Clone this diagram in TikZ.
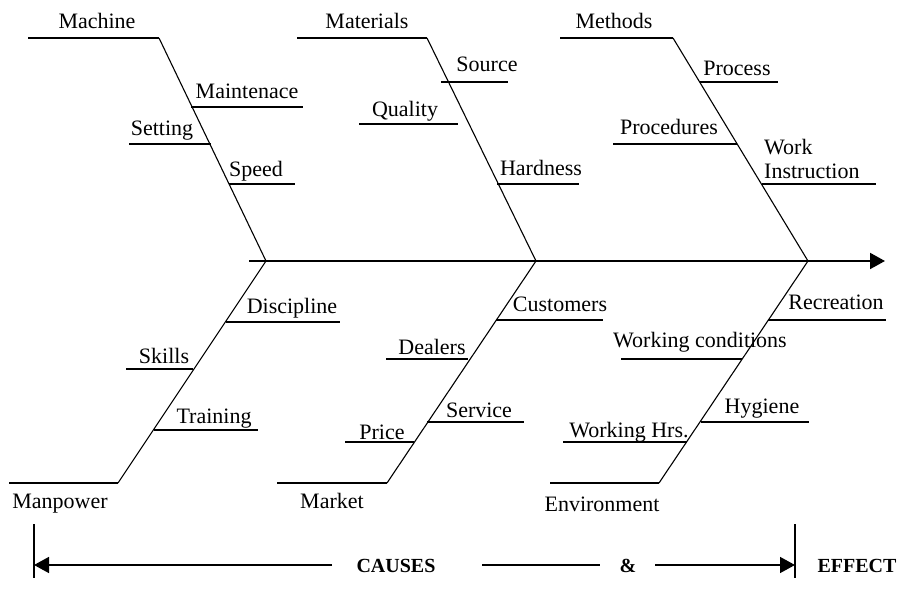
\documentclass[tikz,border=0pt]{standalone}
\usepackage{fontspec}
\setmainfont{Liberation Serif}
\usetikzlibrary{arrows.meta}

\begin{document}
\begin{tikzpicture}[x=1pt,y=-1pt,
  bone/.style={line width=1.1pt},
  rib/.style={line width=2pt},
  lbl/.style={anchor=base, inner sep=0pt, font=\fontsize{22}{24}\selectfont},
  big/.style={anchor=base, inner sep=0pt, font=\fontsize{20}{24}\selectfont\bfseries},
  tip/.style={-{Triangle[length=15pt,width=16pt]}}]
  \useasboundingbox (0,0) rectangle (903,604);

  \coordinate (S0) at (249,261);
  \coordinate (S1) at (885,261);
  \coordinate (J1) at (266,261);
  \coordinate (J2) at (536,261);
  \coordinate (J3) at (808,261);

  \coordinate (Mc0) at (28,38);
  \coordinate (Mc1) at (159,38);
  \coordinate (Mt0) at (297,38);
  \coordinate (Mt1) at (427,38);
  \coordinate (Me0) at (560,38);
  \coordinate (Me1) at (673,38);
  \coordinate (Mp0) at (9,483);
  \coordinate (Mp1) at (118,483);
  \coordinate (Mk0) at (277,483);
  \coordinate (Mk1) at (387,483);
  \coordinate (En0) at (550,483);
  \coordinate (En1) at (659,483);

  \coordinate (Mn0) at (191,107);
  \coordinate (Mn1) at (303,107);
  \coordinate (St0) at (129,144);
  \coordinate (St1) at (211,144);
  \coordinate (Sp0) at (229,184);
  \coordinate (Sp1) at (295,184);
  \coordinate (So0) at (441,82);
  \coordinate (So1) at (508,82);
  \coordinate (Ql0) at (359,124);
  \coordinate (Ql1) at (458,124);
  \coordinate (Hd0) at (497,184);
  \coordinate (Hd1) at (579,184);
  \coordinate (Pc0) at (700,82);
  \coordinate (Pc1) at (778,82);
  \coordinate (Pd0) at (613,144);
  \coordinate (Pd1) at (737,144);
  \coordinate (Wi0) at (762,184);
  \coordinate (Wi1) at (876,184);

  \coordinate (Di0) at (226,322);
  \coordinate (Di1) at (340,322);
  \coordinate (Sk0) at (126,369);
  \coordinate (Sk1) at (193,369);
  \coordinate (Tr0) at (154,430);
  \coordinate (Tr1) at (258,430);
  \coordinate (Cu0) at (496,320);
  \coordinate (Cu1) at (603,320);
  \coordinate (De0) at (386,359);
  \coordinate (De1) at (468,359);
  \coordinate (Sv0) at (427,422);
  \coordinate (Sv1) at (524,422);
  \coordinate (Pr0) at (345,442);
  \coordinate (Pr1) at (414,442);
  \coordinate (Rc0) at (768,320);
  \coordinate (Rc1) at (886,320);
  \coordinate (Wc0) at (621,359);
  \coordinate (Wc1) at (742,359);
  \coordinate (Hy0) at (701,422);
  \coordinate (Hy1) at (809,422);
  \coordinate (Wh0) at (563,442);
  \coordinate (Wh1) at (687,442);

  \coordinate (L0) at (34,524);
  \coordinate (L1) at (34,578);
  \coordinate (R0) at (795,524);
  \coordinate (R1) at (795,578);
  \coordinate (A0) at (34,565);
  \coordinate (A1) at (332,565);
  \coordinate (B0) at (482,565);
  \coordinate (B1) at (600,565);
  \coordinate (C0) at (655,565);
  \coordinate (C1) at (795,565);

  \draw[rib, tip] (S0) -- (S1);
  \draw[rib] (Mc0) -- (Mc1);
  \draw[bone] (Mc1) -- (J1);
  \draw[rib] (Mt0) -- (Mt1);
  \draw[bone] (Mt1) -- (J2);
  \draw[rib] (Me0) -- (Me1);
  \draw[bone] (Me1) -- (J3);
  \draw[rib] (Mp0) -- (Mp1);
  \draw[bone] (Mp1) -- (J1);
  \draw[rib] (Mk0) -- (Mk1);
  \draw[bone] (Mk1) -- (J2);
  \draw[rib] (En0) -- (En1);
  \draw[bone] (En1) -- (J3);

  \draw[rib] (Mn0) -- (Mn1);
  \draw[rib] (St0) -- (St1);
  \draw[rib] (Sp0) -- (Sp1);
  \draw[rib] (So0) -- (So1);
  \draw[rib] (Ql0) -- (Ql1);
  \draw[rib] (Hd0) -- (Hd1);
  \draw[rib] (Pc0) -- (Pc1);
  \draw[rib] (Pd0) -- (Pd1);
  \draw[rib] (Wi0) -- (Wi1);
  \draw[rib] (Di0) -- (Di1);
  \draw[rib] (Sk0) -- (Sk1);
  \draw[rib] (Tr0) -- (Tr1);
  \draw[rib] (Cu0) -- (Cu1);
  \draw[rib] (De0) -- (De1);
  \draw[rib] (Sv0) -- (Sv1);
  \draw[rib] (Pr0) -- (Pr1);
  \draw[rib] (Rc0) -- (Rc1);
  \draw[rib] (Wc0) -- (Wc1);
  \draw[rib] (Hy0) -- (Hy1);
  \draw[rib] (Wh0) -- (Wh1);

  \node[lbl] (mach) at (97,29) {Machine};
  \node[lbl] (matl) at (367,29) {Materials};
  \node[lbl] (meth) at (614,29) {Methods};
  \node[lbl] (mant) at (247,99) {Maintenace};
  \node[lbl] (sett) at (162,136) {Setting};
  \node[lbl] (spd) at (256,177) {Speed};
  \node[lbl] (src) at (487,72) {Source};
  \node[lbl] (qual) at (405,117) {Quality};
  \node[lbl] (hard) at (541,176) {Hardness};
  \node[lbl] (proc) at (737,76) {Process};
  \node[lbl] (prcd) at (669,135) {Procedures};
  \node[lbl, anchor=south west, align=left] (work) at (764,179) {Work\\Instruction};

  \node[lbl] (manp) at (60,508) {Manpower};
  \node[lbl] (mrkt) at (332,508) {Market};
  \node[lbl] (envi) at (602,511) {Environment};
  \node[lbl] (disc) at (292,314) {Discipline};
  \node[lbl] (skil) at (164,363) {Skills};
  \node[lbl] (trng) at (214,423) {Training};
  \node[lbl] (cust) at (560,312) {Customers};
  \node[lbl] (dlrs) at (432,355) {Dealers};
  \node[lbl] (serv) at (479,417) {Service};
  \node[lbl] (pric) at (382,439) {Price};
  \node[lbl] (recr) at (836,310) {Recreation};
  \node[lbl] (wcon) at (700,347) {Working conditions};
  \node[lbl] (hyg) at (762,413) {Hygiene};
  \node[lbl] (whrs) at (629,437) {Working Hrs.};

  \draw[line width=1.5pt] (L0) -- (L1);
  \draw[line width=1.5pt] (R0) -- (R1);
  \draw[line width=1.5pt, tip] (A1) -- (A0);
  \draw[line width=1.5pt] (B0) -- (B1);
  \draw[line width=1.5pt, tip] (C0) -- (C1);
  \node[big] (caus) at (396,572) {CAUSES};
  \node[big] (amp) at (628,572) {\&};
  \node[big] (efft) at (857,572) {EFFECT};
\end{tikzpicture}
\end{document}
